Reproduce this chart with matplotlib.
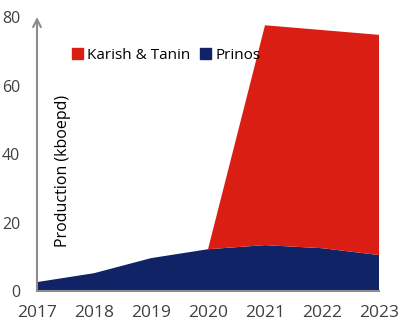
import matplotlib
matplotlib.use("Agg")
import matplotlib.pyplot as plt
import numpy as np
from matplotlib.patches import Patch

years = [2017, 2018, 2019, 2020, 2021, 2022, 2023]
prinos = [2.6, 5.2, 9.6, 12.2, 13.4, 12.5, 10.5]
karish_tanin = [0, 0, 0, 0, 64.2, 63.7, 64.3]
yticks = [0, 20, 40, 60, 80]

red = "#DA1E14"
navy = "#0F2366"
txt = "#404040"

plt.rcParams['font.family'] = ['Open Sans', 'DejaVu Sans']

fig = plt.figure(figsize=(4, 3.25), dpi=100)
ax = fig.add_axes([0.0925, 0.1046, 0.855, 0.843])

ax.stackplot(years, prinos, karish_tanin, colors=[navy, red],
             labels=["Prinos", "Karish & Tanin"], linewidth=0)

ax.set_xlim(2017, 2023)
ax.set_ylim(0, 80)
ax.set_xticks(years)
ax.set_xticklabels([str(y) for y in years], fontsize=12.5, color=txt)
ax.set_yticks(yticks)
ax.set_yticklabels([str(v) for v in yticks], fontsize=11.5, color=txt)
ax.tick_params(axis='x', length=0, pad=10)
ax.tick_params(axis='y', length=0, pad=12)

for s in ["top", "right", "left"]:
    ax.spines[s].set_visible(False)
ax.spines["bottom"].set_color("#8c8c8c")
ax.spines["bottom"].set_linewidth(1.5)

ax.annotate('', xy=(0, 1.0), xytext=(0, 0), xycoords='axes fraction',
            arrowprops=dict(arrowstyle='->', color='#8c8c8c', lw=1.5,
                            mutation_scale=14, shrinkA=0, shrinkB=0))

ax.text(0.075, 0.44, "Production (kboepd)", transform=ax.transAxes,
        rotation=90, ha='center', va='center', fontsize=11.5, color='black')

handles = [Patch(color=red), Patch(color=navy)]
ax.legend(handles, ["Karish & Tanin", "Prinos"], loc='upper left',
          bbox_to_anchor=(0.085, 0.91), ncol=2, frameon=False, fontsize=11,
          handlelength=0.7, handleheight=0.7, handletextpad=0.3,
          columnspacing=0.6, borderaxespad=0)

fig.savefig("out.png", dpi=100)
